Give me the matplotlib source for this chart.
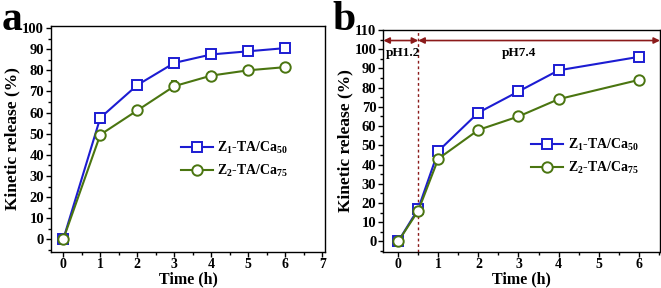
import numpy as np
import matplotlib
matplotlib.use('Agg')
import matplotlib.pyplot as plt
from matplotlib.ticker import MultipleLocator
from matplotlib.lines import Line2D

plt.rcParams['font.family'] = ['Liberation Serif', 'DejaVu Serif']
plt.rcParams['font.weight'] = 'bold'
plt.rcParams['mathtext.fontset'] = 'custom'
plt.rcParams['mathtext.rm'] = 'Liberation Serif:bold'
plt.rcParams['mathtext.bf'] = 'Liberation Serif:bold'
plt.rcParams['mathtext.default'] = 'rm'

# данные, панель a
time_a = [0, 1, 2, 3, 4, 5, 6]
z1_a = [0, 57.5, 73, 83.5, 87.5, 89, 90.5]
z1_a_err = [0.5, 2.5, 1, 2, 1.8, 1, 1.2]
z2_a = [0, 49.5, 61, 72.5, 77.5, 80, 81.5]
z2_a_err = [0.5, 1, 1, 2.2, 1.8, 1, 1]

# данные, панель b
time_b = [0, 0.5, 1, 2, 3, 4, 6]
z1_b = [0, 17, 47, 67, 78, 89, 96]
z1_b_err = [0.5, 1.5, 1, 1, 1, 2, 1.5]
z2_b = [0, 16, 43, 58, 65, 74, 84]
z2_b_err = [0.5, 1.5, 1, 1, 1, 1, 1.5]

labels = ['Z$_1$-TA/Ca$_{50}$', 'Z$_2$-TA/Ca$_{75}$']
blue = '#1c1cd2'
green = '#4a7510'
red = '#8b1a1a'

fig = plt.figure(figsize=(6.61, 2.88), dpi=100)
ax1 = fig.add_axes([0.0772, 0.1250, 0.4145, 0.785])
ax2 = fig.add_axes([0.580, 0.1250, 0.4185, 0.771])

handles = [
    Line2D([], [], color=blue, marker='s', mfc='white', mec=blue, ms=6.5, mew=1.4, lw=1.5),
    Line2D([], [], color=green, marker='o', mfc='white', mec=green, ms=7.5, mew=1.4, lw=1.5),
]


def draw(ax, t, y1, e1, y2, e2):
    ax.errorbar(t, y1, yerr=e1, color=blue, marker='s', mfc='white', mec=blue,
                ms=6.5, mew=1.4, lw=1.5, capsize=2, elinewidth=1, zorder=3)
    ax.errorbar(t, y2, yerr=e2, color=green, marker='o', mfc='white', mec=green,
                ms=7.5, mew=1.4, lw=1.5, capsize=2, elinewidth=1, zorder=3)
    ax.tick_params(which='both', direction='out', top=False, right=False, labelsize=10.5, pad=1.5)
    ax.tick_params(axis='x', labelsize=10, pad=1)
    ax.tick_params(which='major', length=3.5, width=1)
    ax.tick_params(which='minor', length=2, width=1)
    for s in ax.spines.values():
        s.set_linewidth(1)
    ax.set_xlabel('Time (h)', fontsize=11.5, fontweight='bold', labelpad=0)
    ax.set_ylabel('Kinetic release (%)', fontsize=12.5, fontweight='bold', labelpad=1)


draw(ax1, time_a, z1_a, z1_a_err, z2_a, z2_a_err)
ax1.set_xlim(-0.33, 7.07)
ax1.set_ylim(-6, 101)
ax1.xaxis.set_major_locator(MultipleLocator(1))
ax1.xaxis.set_minor_locator(MultipleLocator(0.5))
ax1.yaxis.set_major_locator(MultipleLocator(10))
ax1.yaxis.set_minor_locator(MultipleLocator(5))
ax1.legend(handles, labels, loc='center left', bbox_to_anchor=(0.43, 0.41), frameon=False,
           fontsize=10, handlelength=2.3, handletextpad=0.3, labelspacing=0.5)
fig.text(0.003, 0.995, 'a', fontsize=30, fontweight='bold', va='top', ha='left')

draw(ax2, time_b, z1_b, z1_b_err, z2_b, z2_b_err)
ax2.set_xlim(-0.37, 6.53)
ax2.set_ylim(-5.5, 110)
ax2.set_xticks([0, 1, 2, 3, 4, 5, 6])
ax2.xaxis.set_minor_locator(MultipleLocator(0.5))
ax2.yaxis.set_major_locator(MultipleLocator(10))
ax2.yaxis.set_minor_locator(MultipleLocator(5))
ax2.axvline(0.5, color=red, ls=(0, (2, 2)), lw=1)
ax2.annotate('', xy=(-0.37, 104.5), xytext=(0.5, 104.5),
             arrowprops=dict(arrowstyle='<|-|>', color=red, lw=1.2, mutation_scale=9,
                             shrinkA=0, shrinkB=0))
ax2.annotate('', xy=(0.5, 104.5), xytext=(6.53, 104.5),
             arrowprops=dict(arrowstyle='<|-|>', color=red, lw=1.2, mutation_scale=9,
                             shrinkA=0, shrinkB=0))
ax2.text(-0.32, 98, 'pH1.2', fontsize=9.5, fontweight='bold', va='center', ha='left')
ax2.text(3.0, 98, 'pH7.4', fontsize=9.5, fontweight='bold', va='center', ha='center')
ax2.legend(handles, labels, loc='center left', bbox_to_anchor=(0.49, 0.43), frameon=False,
           fontsize=10, handlelength=2.3, handletextpad=0.3, labelspacing=0.5)
fig.text(0.503, 0.995, 'b', fontsize=30, fontweight='bold', va='top', ha='left')

fig.savefig('out.png', dpi=100)
